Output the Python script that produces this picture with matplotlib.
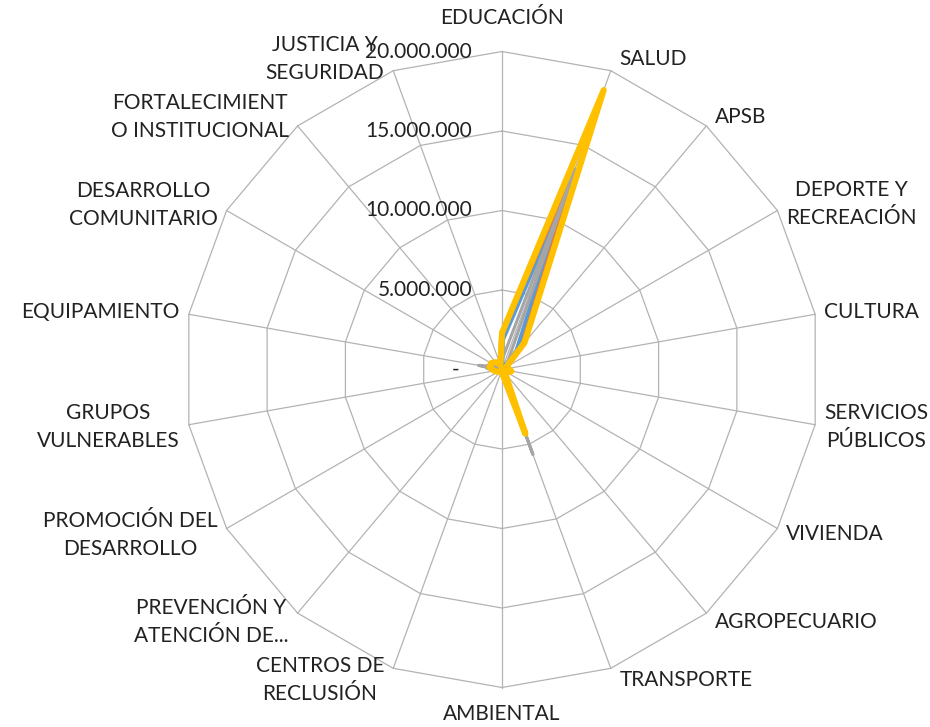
import numpy as np
import matplotlib.pyplot as plt

plt.rcParams['font.family'] = ['Lato', 'DejaVu Sans']

categorias = ['EDUCACIÓN', 'SALUD', 'APSB', 'DEPORTE Y\nRECREACIÓN', 'CULTURA',
              'SERVICIOS\nPÚBLICOS', 'VIVIENDA', 'AGROPECUARIO', 'TRANSPORTE',
              'AMBIENTAL', 'CENTROS DE\nRECLUSIÓN', 'PREVENCIÓN Y\nATENCIÓN DE...',
              'PROMOCIÓN DEL\nDESARROLLO', 'GRUPOS\nVULNERABLES', 'EQUIPAMIENTO',
              'DESARROLLO\nCOMUNITARIO', 'FORTALECIMIENT\nO INSTITUCIONAL',
              'JUSTICIA Y\nSEGURIDAD']

serie_azul = [1900000, 13300000, 1500000, 200000, 200000, 300000, 150000, 100000, 2500000,
              100000, 0, 50000, 100000, 200000, 900000, 400000, 300000, 150000]
serie_naranja = [2100000, 13200000, 1800000, 200000, 200000, 300000, 150000, 100000, 3000000,
                 100000, 0, 50000, 100000, 200000, 1350000, 400000, 300000, 150000]
serie_gris = [600000, 13400000, 500000, 100000, 100000, 200000, 100000, 100000, 5700000,
              100000, 0, 50000, 100000, 200000, 1500000, 300000, 200000, 100000]
serie_amarilla = [2300000, 18700000, 2200000, 300000, 400000, 600000, 400000, 300000, 4300000,
                  200000, 0, 100000, 300000, 500000, 800000, 800000, 600000, 300000]

niveles = [0, 5000000, 10000000, 15000000, 20000000]
etiquetas_niveles = ['-', '5.000.000', '10.000.000', '15.000.000', '20.000.000']

n = len(categorias)
ang = np.arange(n) * 2 * np.pi / n
sx, cy = np.sin(ang), np.cos(ang)
rmax = niveles[-1]

fig = plt.figure(figsize=(9.30, 7.27), dpi=100)
ax = fig.add_axes([0, 0, 1, 1])
escala = rmax / 318.0  # valor por pixel
ax.set_xlim(-502 * escala, 428 * escala)
ax.set_ylim(-357.5 * escala, 369.5 * escala)
ax.axis('off')

gris_grid = '#b3b3b3'
# anillos poligonales
for r in niveles[1:]:
    ax.plot(np.append(sx, sx[0]) * r, np.append(cy, cy[0]) * r, color=gris_grid, lw=0.9, zorder=1)
# radios
for i in range(n):
    ax.plot([0, sx[i] * rmax], [0, cy[i] * rmax], color=gris_grid, lw=0.9, zorder=1)

series = [(serie_azul, '#5b9bd5', 4.4), (serie_naranja, '#ed7d31', 1.4),
          (serie_gris, '#a5a5a5', 2.2), (serie_amarilla, '#ffc000', 4.4)]
for k, (vals, col, lw) in enumerate(series):
    v = np.array(vals, dtype=float)
    ax.plot(np.append(sx * v, sx[0] * v[0]), np.append(cy * v, cy[0] * v[0]),
            color=col, lw=lw, solid_joinstyle='round', solid_capstyle='round', zorder=3 + k)

# etiquetas de categorias
for i, lab in enumerate(categorias):
    s, c = sx[i], cy[i]
    if abs(s) < 0.05:
        ha = 'center'
        dx = 0
        dy = 33 if c > 0 else -27
    else:
        ha = 'left' if s > 0 else 'right'
        dx = 9 if s > 0 else -9
        dy = 12 * c
    ax.annotate(lab, xy=(s * rmax, c * rmax), xytext=(dx, dy), textcoords='offset pixels',
                ha=ha, va='center', ma='center', fontsize=15, color='#222222', linespacing=1.5)

# etiquetas de niveles
for r, lab in zip(niveles, etiquetas_niveles):
    off = -30 if r > 0 else -43
    ax.annotate(lab, xy=(0, r), xytext=(off, 0), textcoords='offset pixels',
                ha='right', va='center', fontsize=15, color='#222222')

fig.savefig('out.png', dpi=100)
